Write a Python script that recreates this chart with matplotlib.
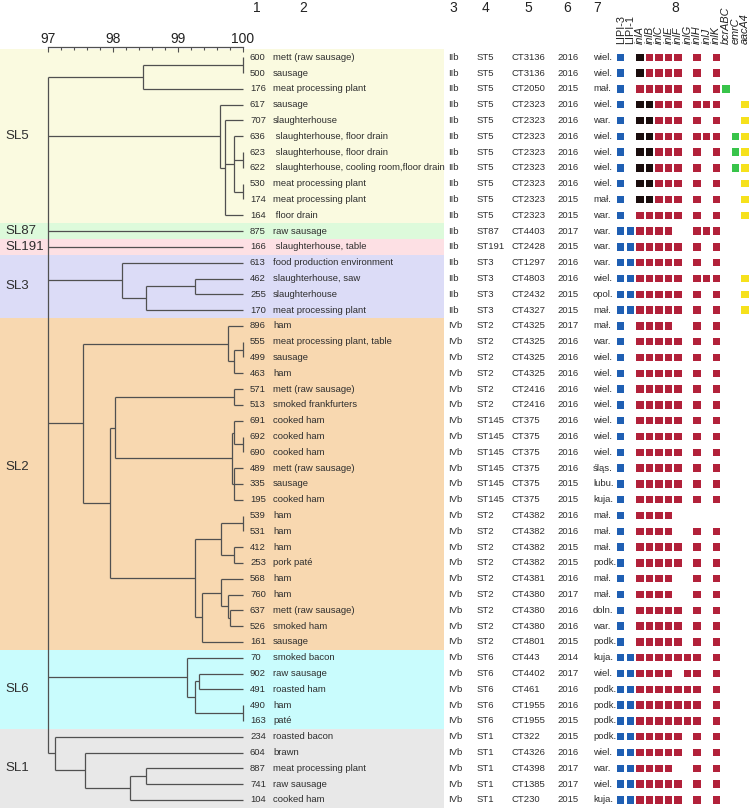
import matplotlib
matplotlib.use('Agg')
import matplotlib.pyplot as plt
from matplotlib.patches import Rectangle

plt.rcParams['font.family'] = ['Liberation Sans', 'DejaVu Sans']

# ---------------- data ----------------
ids = [600, 500, 176, 617, 707, 636, 623, 622, 530, 174, 164, 875, 166, 613, 462, 255, 170,
       896, 555, 499, 463, 571, 513, 691, 692, 690, 489, 335, 195, 539, 531, 412, 253, 568,
       760, 637, 526, 161, 70, 902, 491, 490, 163, 234, 604, 887, 741, 104]
sources = ["mett (raw sausage)", "sausage", "meat processing plant", "sausage", "slaughterhouse",
           " slaughterhouse, floor drain", " slaughterhouse, floor drain",
           " slaughterhouse, cooling room,floor drain", "meat processing plant",
           "meat processing plant", " floor drain", "raw sausage", " slaughterhouse, table",
           "food production environment", "slaughterhouse, saw", "slaughterhouse",
           "meat processing plant", "ham", "meat processing plant, table", "sausage", "ham",
           "mett (raw sausage)", "smoked frankfurters", "cooked ham", "cooked ham", "cooked ham",
           "mett (raw sausage)", "sausage", "cooked ham", "ham", "ham", "ham", "pork paté",
           "ham", "ham", "mett (raw sausage)", "smoked ham", "sausage", "smoked bacon",
           "raw sausage", "roasted ham", "ham", "paté", "roasted bacon", "brawn",
           "meat processing plant", "raw sausage", "cooked ham"]
serotypes = ["IIb", "IIb", "IIb", "IIb", "IIb", "IIb", "IIb", "IIb", "IIb", "IIb",
             "IIb", "IIb", "IIb", "IIb", "IIb", "IIb", "IIb",
             "IVb", "IVb", "IVb", "IVb", "IVb", "IVb", "IVb", "IVb", "IVb", "IVb", "IVb", "IVb",
             "IVb", "IVb", "IVb", "IVb", "IVb", "IVb", "IVb", "IVb", "IVb", "IVb", "IVb", "IVb",
             "IVb", "IVb", "IVb", "IVb", "IVb", "IVb", "IVb"]
sts = ["ST5", "ST5", "ST5", "ST5", "ST5", "ST5", "ST5", "ST5", "ST5", "ST5", "ST5", "ST87",
       "ST191", "ST3", "ST3", "ST3", "ST3", "ST2", "ST2", "ST2", "ST2", "ST2", "ST2", "ST145",
       "ST145", "ST145", "ST145", "ST145", "ST145", "ST2", "ST2", "ST2", "ST2", "ST2", "ST2",
       "ST2", "ST2", "ST2", "ST6", "ST6", "ST6", "ST6", "ST6", "ST1", "ST1", "ST1", "ST1", "ST1"]
cts = ["CT3136", "CT3136", "CT2050", "CT2323", "CT2323", "CT2323", "CT2323", "CT2323", "CT2323",
       "CT2323", "CT2323", "CT4403", "CT2428", "CT1297", "CT4803", "CT2432", "CT4327", "CT4325",
       "CT4325", "CT4325", "CT4325", "CT2416", "CT2416", "CT375", "CT375", "CT375", "CT375",
       "CT375", "CT375", "CT4382", "CT4382", "CT4382", "CT4382", "CT4381", "CT4380", "CT4380",
       "CT4380", "CT4801", "CT443", "CT4402", "CT461", "CT1955", "CT1955", "CT322", "CT4326",
       "CT4398", "CT1385", "CT230"]
years = ["2016", "2016", "2015", "2016", "2016", "2016", "2016", "2016", "2016", "2015", "2015",
         "2017", "2015", "2016", "2016", "2015", "2015", "2017", "2016", "2016", "2016", "2016",
         "2016", "2016", "2016", "2016", "2016", "2015", "2015", "2016", "2016", "2015", "2015",
         "2016", "2017", "2016", "2016", "2015", "2014", "2017", "2016", "2016", "2015", "2015",
         "2016", "2017", "2017", "2015"]
regions = ["wiel.", "wiel.", "mał.", "wiel.", "war.", "wiel.", "wiel.", "wiel.", "wiel.", "mał.",
           "war.", "war.", "war.", "war.", "wiel.", "opol.", "mał.", "mał.", "war.", "wiel.",
           "wiel.", "wiel.", "wiel.", "wiel.", "wiel.", "wiel.", "śląs.", "lubu.", "kuja.", "mał.",
           "mał.", "mał.", "podk.", "mał.", "mał.", "doln.", "war.", "podk.", "kuja.", "wiel.",
           "podk.", "podk.", "podk.", "podk.", "wiel.", "war.", "wiel.", "kuja."]

genes = ["LIPI-3", "LIPI-1", "inlA", "inlB", "inlC", "inlE", "inlF", "inlG", "inlH", "inlJ",
         "inlK", "bcrABC", "emrC", "aacA4"]
gene_italic = [False, False, True, True, True, True, True, True, True, True, True, True, True, True]
# B blue (LIPI), R red (internalins), K black (truncated inlA/inlB), G green, Y yellow, . absent
profiles = ["B.KRRRR.R.R...", "B.KRRRR.R.R...", "B.RRRRR.R.RG..", "B.KKRRR.RRR..Y",
            "B.KKRRR.R.R..Y", "B.KKRRR.RRR.GY", "B.KKRRR.R.R.GY", "B.KKRRR.R.R.GY",
            "B.KKRRR.R.R..Y", "B.KKRRR.R.R..Y", "B.RRRRR.R.R..Y", "BBRRRR..RRR...",
            "BBRRRRR.R.R...", "BBRRRRR.R.R...", "BBRRRRR.RRR..Y", "BBRRRRR.R.R..Y",
            "BBRRRRR.R.R..Y", "B.RRRR..R.R...", "B.RRRRR.R.R...", "B.RRRRR.R.R...",
            "B.RRRRR.R.R...", "B.RRRRR.R.R...", "B.RRRRR.R.R...", "B.RRRRR.R.R...",
            "B.RRRRR.R.R...", "B.RRRRR.R.R...", "B.RRRRR.R.R...", "B.RRRRR.R.R...",
            "B.RRRRR.R.R...", "B.RRRR........", "B.RRRR..R.R...", "B.RRRRR.R.R...",
            "B.RRRRR.R.R...", "B.RRRR..R.R...", "B.RRRR..R.R...", "B.RRRRR.R.R...",
            "B.RRRRR.R.R...", "B.RRRRR.R.R...", "BBRRRRRRR.R...", "BBRRRR.RR.R...",
            "BBRRRRRRR.R...", "BBRRRRRRR.R...", "BBRRRRRRR.R...", "BBRRRRR.R.R...",
            "BBRRRRR.R.R...", "BBRRRR..R.R...", "BBRRRRR.R.R...", "BBRRRRR.R.R..."]

# sublineages: name, first strain, last strain, colour
sublineages = [("SL5", 600, 164, "#fafae0"), ("SL87", 875, 875, "#ddfadb"),
               ("SL191", 166, 166, "#fde0e4"), ("SL3", 613, 170, "#dcdcf7"),
               ("SL2", 896, 161, "#f8d8b0"), ("SL6", 70, 163, "#c9fcfd"),
               ("SL1", 234, 104, "#e8e8e8")]

# dendrogram: (similarity %, [children]); leaves are strain ids
tree = (97.0, [
    (98.46, [(100.0, [600, 500]), 176]),
    (99.65, [617, (99.73, [707, (99.87, [636, (100.0, [623, 622]), (100.0, [530, 174])]), 164])]),
    875,
    166,
    (98.14, [613, (98.51, [(99.26, [462, 255]), 170])]),
    (97.54, [(99.78, [896, (99.87, [(100.0, [555, 499]), 463])]),
             (97.96, [(98.04, [(99.87, [571, 513]),
                               (99.83, [(99.87, [691, (100.0, [692, 690])]),
                                        (99.87, [489, 335, 195])])]),
                      (99.26, [(99.66, [(100.0, [539, 531]), (99.87, [412, 253])]),
                               (99.38, [(99.66, [568, (99.77, [760, (99.81, [637, 526])])]), 161])])])]),
    (99.14, [70, (99.26, [(99.32, [902, 491]), (100.0, [490, 163])])]),
    (97.11, [234, (97.57, [604, (98.27, [(98.51, [887, 741]), 104])])]),
])

# ---------------- layout ----------------
W, H = 750, 809
ROW0, ROWH = 57.3, 15.8
def prow(ypx):
    return (ypx - ROW0) / ROWH
ytop, ybot = prow(0), prow(H)
row_of = {s: i for i, s in enumerate(ids)}

fig = plt.figure(figsize=(W / 100, H / 100), dpi=100)
txt = '#2e2e2e'
linec = '#505050'

ax_bg = fig.add_axes([0, 0, 1, 1])
ax_bg.set_xlim(0, W)
ax_bg.set_ylim(ybot, ytop)
ax_bg.axis('off')

BAND_R = 444
for name, a, b, col in sublineages:
    r0, r1 = row_of[a], row_of[b]
    ax_bg.add_patch(Rectangle((0, r0 - 0.5), BAND_R, r1 - r0 + 1, facecolor=col, lw=0, zorder=0))
    yl = (r0 + r1) / 2 if name != "SL2" else 25.9
    ax_bg.text(5, yl, name, fontsize=9.5, color=txt, ha='left', va='center')

# table text
cols_x = [250, 273, 448, 477, 512, 557, 593]
for i in range(len(ids)):
    vals = [str(ids[i]), sources[i], serotypes[i], sts[i], cts[i], years[i], regions[i]]
    for x, v in zip(cols_x, vals):
        ax_bg.text(x, i, v, fontsize=6.8, color=txt, ha='left', va='center')

# column numbers
hdr_x = [257, 303, 453, 485, 528, 567, 597, 675]
for k, x in enumerate(hdr_x):
    ax_bg.text(x, prow(8), str(k + 1), fontsize=10, color='#222222', ha='center', va='center')

# dendrogram
ax_d = fig.add_axes([47.7 / W, 0, 195 / W, 1])
ax_d.set_xlim(97, 100)
ax_d.set_ylim(ybot, ytop)
ax_d.axis('off')
ax_d.patch.set_alpha(0)

def draw(node):
    if not isinstance(node, tuple):
        return 100.0, row_of[node]
    h, kids = node
    pts = [draw(k) for k in kids]
    for (cx, cy) in pts:
        ax_d.plot([cx, h], [cy, cy], color=linec, lw=0.9, solid_capstyle='butt', clip_on=False)
    ys = [p[1] for p in pts]
    ax_d.plot([h, h], [min(ys), max(ys)], color=linec, lw=0.9, solid_capstyle='butt', clip_on=False)
    return h, (min(ys) + max(ys)) / 2

draw(tree)

# similarity scale
ax_s = fig.add_axes([47.7 / W, 1 - (46.7 + 10) / H, 195 / W, 10 / H])
ax_s.set_xlim(97, 100)
ax_s.patch.set_alpha(0)
for sp in ['bottom', 'left', 'right']:
    ax_s.spines[sp].set_visible(False)
ax_s.spines['top'].set_color(linec)
ax_s.spines['top'].set_linewidth(0.9)
ax_s.set_yticks([])
ax_s.set_xticks([97, 98, 99, 100])
ax_s.set_xticks([97 + 0.2 * k for k in range(16)], minor=True)
ax_s.xaxis.set_ticks_position('top')
ax_s.xaxis.set_label_position('top')
ax_s.tick_params(axis='x', which='major', direction='in', length=3.5, width=0.8, color=linec,
                 labelsize=10, pad=0.8, labelcolor='#222222')
ax_s.tick_params(axis='x', which='minor', direction='in', length=2.5, width=0.8, color=linec)

# gene matrix
GX0, GDX = 620.7, 9.56
ax_g = fig.add_axes([(GX0 - 0.5 * GDX) / W, 0, 14.02 * GDX / W, 1])
ax_g.set_xlim(-0.5, 13.52)
ax_g.set_ylim(ybot, ytop)
ax_g.axis('off')
ax_g.patch.set_alpha(0)
cmap = {'B': '#1f5fb3', 'R': '#b2213a', 'K': '#1a0d0d', 'G': '#38c44a', 'Y': '#f6e11c'}
sw, sh = 7.5 / GDX, 7.5 / ROWH
for i, prof in enumerate(profiles):
    for k, c in enumerate(prof):
        if c in cmap:
            ax_g.add_patch(Rectangle((k - sw / 2, i - sh / 2), sw, sh, facecolor=cmap[c],
                                     edgecolor='none', lw=0))
for k, g in enumerate(genes):
    ax_g.text(k, prow(44), g, rotation=90, ha='center', va='bottom', fontsize=7.8,
              style='italic' if gene_italic[k] else 'normal', color='#222222')

fig.savefig('out.png', dpi=100)
